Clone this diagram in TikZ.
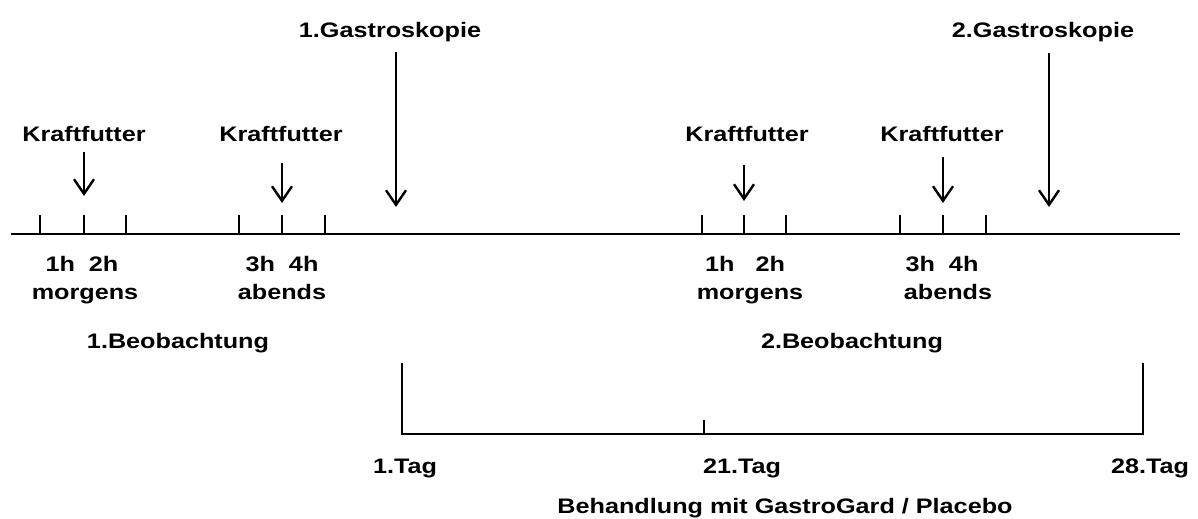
\documentclass[tikz,border=0pt]{standalone}
\usepackage{fontspec}
\setmainfont[FakeStretch=1.2]{Liberation Sans}
\usetikzlibrary{arrows.meta}
\begin{document}
\begin{tikzpicture}[x=0.75pt,y=-0.75pt,
lbl/.style={anchor=base,inner sep=0pt,font=\fontsize{15.75}{18}\selectfont\bfseries},
pfeil/.style={line width=1.8pt,-{Straight Barb[length=11pt,width=15pt]}},
strich/.style={line width=1.8pt},
achse/.style={line width=2.2pt}]

\useasboundingbox (0,0) rectangle (1198,518);

%=================================================
% TIME AXIS
%=================================================

\coordinate (axL) at (11,234);
\coordinate (axR) at (1180,234);

\draw[achse]
(axL)--(axR);

\foreach \x in {40,84,126,239,282,325,702,744,786,900,943,986}
{
\draw[strich]
(\x,215)--(\x,234);
}

%=================================================
% GASTROSKOPIE
%=================================================

\node[lbl] (gas1) at (390,37) {1.Gastroskopie};
\coordinate (gas1a) at (396,52);
\coordinate (gas1b) at (396,207);
\draw[pfeil] (gas1a)--(gas1b);

\node[lbl] (gas2) at (1043,37) {2.Gastroskopie};
\coordinate (gas2a) at (1049,53);
\coordinate (gas2b) at (1049,207);
\draw[pfeil] (gas2a)--(gas2b);

%=================================================
% KRAFTFUTTER
%=================================================

\node[lbl] (kf1) at (84,141) {Kraftfutter};
\coordinate (kf1a) at (84,152);
\coordinate (kf1b) at (84,196);
\draw[pfeil] (kf1a)--(kf1b);

\node[lbl] (kf2) at (281,141) {Kraftfutter};
\coordinate (kf2a) at (282,163);
\coordinate (kf2b) at (282,203);
\draw[pfeil] (kf2a)--(kf2b);

\node[lbl] (kf3) at (747,141) {Kraftfutter};
\coordinate (kf3a) at (744,165);
\coordinate (kf3b) at (744,201);
\draw[pfeil] (kf3a)--(kf3b);

\node[lbl] (kf4) at (942,141) {Kraftfutter};
\coordinate (kf4a) at (943,157);
\coordinate (kf4b) at (943,203);
\draw[pfeil] (kf4a)--(kf4b);

%=================================================
% HOURS / OBSERVATION
%=================================================

\node[lbl] (h12a) at (82,271) {1h\ \ 2h};
\node[lbl] (h34a) at (282,271) {3h\ \ 4h};
\node[lbl] (h12b) at (745,271) {1h\ \ \ 2h};
\node[lbl] (h34b) at (942,271) {3h\ \ 4h};

\node[lbl] (mo1) at (85,299) {morgens};
\node[lbl] (ab1) at (282,299) {abends};
\node[lbl] (mo2) at (750,299) {morgens};
\node[lbl] (ab2) at (948,299) {abends};

\node[lbl] (beo1) at (178,348) {1.Beobachtung};
\node[lbl] (beo2) at (852,348) {2.Beobachtung};

%=================================================
% TREATMENT
%=================================================

\coordinate (t1top) at (402,363);
\coordinate (t1) at (402,434);
\coordinate (t21) at (704,434);
\coordinate (t28) at (1143,434);
\coordinate (t28top) at (1143,363);

\draw[achse]
(t1top)--(t1)--(t28)--(t28top);

\draw[strich]
(t21)--++(0,-14);

\node[lbl] (tag1) at (405,473) {1.Tag};
\node[lbl] (tag21) at (742,473) {21.Tag};
\node[lbl] (tag28) at (1150,473) {28.Tag};

\node[lbl] (beh) at (785,513) {Behandlung mit GastroGard / Placebo};

\end{tikzpicture}
\end{document}
